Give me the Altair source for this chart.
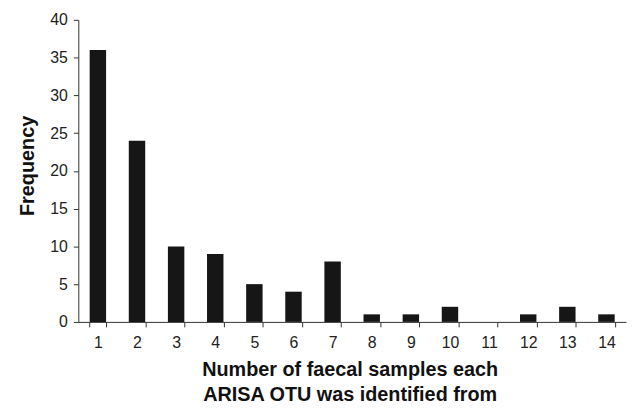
import altair as alt
import pandas as pd

categories = [str(i) for i in range(1, 15)]
frequency = [36, 24, 10, 9, 5, 4, 8, 1, 1, 2, 0, 1, 2, 1]

df = pd.DataFrame({"samples": categories, "freq": frequency})

FONT = "Liberation Sans"

chart = alt.Chart(df).mark_bar(color="#161616").encode(
    x=alt.X("samples:N", sort=categories,
            scale=alt.Scale(paddingInner=0.58, paddingOuter=0.29),
            axis=alt.Axis(title=["Number of faecal samples each", "ARISA OTU was identified from"],
                          labelAngle=0, tickBand="extent", tickSize=5,
                          labelPadding=8, labelFontSize=16, labelColor="#222222",
                          titleFontSize=20, titleFontWeight="bold", titleLineHeight=25,
                          titlePadding=9, titleColor="#111111", titleX=274,
                          domainColor="#333333", tickColor="#333333",
                          labelFont=FONT, titleFont=FONT)),
    y=alt.Y("freq:Q", scale=alt.Scale(domain=[0, 40]),
            axis=alt.Axis(title="Frequency", values=list(range(0, 45, 5)), grid=False,
                          tickSize=5, labelPadding=6, labelFontSize=16, labelColor="#222222",
                          titleFontSize=20, titleFontWeight="bold", titlePadding=12,
                          titleColor="#111111", titleY=147,
                          domainColor="#333333", tickColor="#333333",
                          labelFont=FONT, titleFont=FONT)),
).properties(
    width=553, height=305,
    autosize=alt.AutoSizeParams(type="none"),
    padding={"left": 71, "top": 10, "right": 2, "bottom": 85},
).configure_view(stroke=None)

chart.save("out.html", embed_options={"renderer": "svg", "actions": False})
